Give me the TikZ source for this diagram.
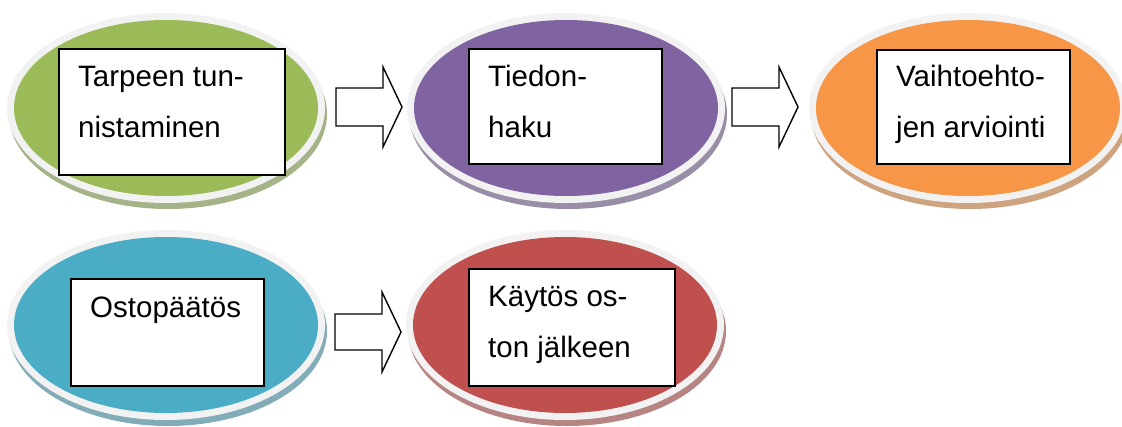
\documentclass[tikz,border=0pt]{standalone}
\usepackage{fontspec}
\setmainfont{Liberation Sans}
\usetikzlibrary{positioning}
\definecolor{rim}{RGB}{242,242,242}
\definecolor{stepgreen}{RGB}{155,187,89}
\definecolor{steppurple}{RGB}{128,100,162}
\definecolor{steporange}{RGB}{247,150,70}
\definecolor{stepblue}{RGB}{75,172,198}
\definecolor{stepred}{RGB}{192,80,77}

\tikzset{
  stepbox/.style={draw, line width=1.8pt, fill=white, anchor=north west, inner sep=0pt},
  steptext/.style={anchor=base west, align=left, inner sep=0pt,
    font=\fontsize{29.5}{51}\selectfont},
  blockarrow/.style={draw, line width=1.4pt, fill=white, line join=miter}
}

\begin{document}
\begin{tikzpicture}[x=1pt, y=-1pt]
\useasboundingbox (0,0) rectangle (1122,426);

% Ellipses with their text boxes (\bl = depth of the last baseline in the box)
\foreach \n/\cx/\cy/\col/\bx/\by/\w/\h/\bl/\txt in {
    1/166/108/stepgreen/58/48/226/126/89/{Tarpeen tun-\\nistaminen},
    2/566/108/steppurple/468/48/193/115/89/{Tiedon-\\haku},
    3/968/108/steporange/876/49/193/114/88/{Vaihtoehto-\\jen arviointi},
    4/166/325/stepblue/70/278/193/107/39/{Ostopäätös},
    5/565/325/stepred/468/268/206/117/89/{Käytös os-\\ton jälkeen}} {
  \fill[\col!55!gray!80!white] (\cx+2,\cy+6) ellipse (159 and 95);
  \fill[rim] (\cx,\cy) ellipse (159 and 95);
  \fill[\col] (\cx,\cy) ellipse (152 and 88);
  \node[stepbox, minimum width=\w pt, minimum height=\h pt] (r\n) at (\bx,\by) {};
  \node[steptext] (t\n) at ([xshift=20pt, yshift=-\bl pt]r\n.north west) {\txt};
}

% Block arrows between the steps
\foreach \ax/\ay/\sh in {336/107/19, 732/107/19, 335/332/18} {
  \draw[blockarrow] (\ax,\ay+\sh) -- (\ax+47,\ay+\sh) -- (\ax+47,\ay+40)
    -- (\ax+66,\ay) -- (\ax+47,\ay-40) -- (\ax+47,\ay-\sh) -- (\ax,\ay-\sh) -- cycle;
}

\end{tikzpicture}
\end{document}
